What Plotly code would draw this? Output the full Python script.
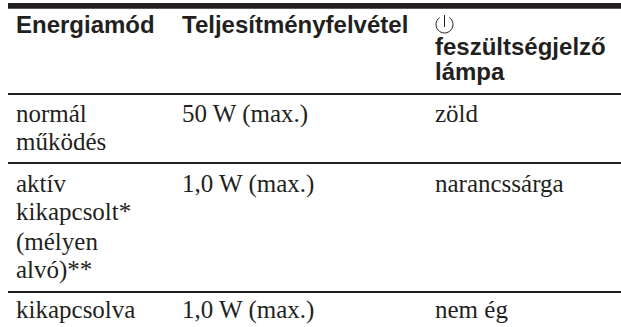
import math
import plotly.graph_objects as go

col1_header = "Energiamód"
col2_header = "Teljesítményfelvétel"
col3_header_lines = ["feszültségjelző", "lámpa"]
modes = [["normál", "működés"], ["aktív", "kikapcsolt*", "(mélyen", "alvó)**"], ["kikapcsolva"]]
power = ["50 W (max.)", "1,0 W (max.)", "1,0 W (max.)"]
lamp = ["zöld", "narancssárga", "nem ég"]

X1, X2, X3 = 15, 181, 434
mode_y = [[113.6, 141.6], [183.6, 211.6, 241.6, 269.6], [309.6]]
row_y = [113.6, 183.6, 309.6]
rules = [94, 163, 292]
INK = "#231f20"

def arc_path(cx, cy, r, a0, a1, n=6):
    d = (a1 - a0) / n
    k = 4 / 3 * math.tan(math.radians(d) / 4) * r
    pts = []
    for i in range(n):
        a = math.radians(a0 + i * d); b = math.radians(a0 + (i + 1) * d)
        p0 = (cx + r * math.sin(a), cy - r * math.cos(a))
        p3 = (cx + r * math.sin(b), cy - r * math.cos(b))
        c1 = (p0[0] + k * math.cos(a), p0[1] + k * math.sin(a))
        c2 = (p3[0] - k * math.cos(b), p3[1] - k * math.sin(b))
        if i == 0:
            pts.append(f"M {p0[0]:.2f} {p0[1]:.2f}")
        pts.append(f"C {c1[0]:.2f} {c1[1]:.2f} {c2[0]:.2f} {c2[1]:.2f} {p3[0]:.2f} {p3[1]:.2f}")
    return " ".join(pts)

fig = go.Figure()
ann = []
def t(x, y, s, font, size):
    ann.append(dict(x=x, y=y, text=s, xref="x", yref="y", showarrow=False, xanchor="left", yanchor="middle",
                    xshift=-1, font=dict(family=font, size=size, color=INK)))
SANS = "Liberation Sans"; SERIF = "Liberation Serif"
HS, BS = 24, 25
t(X1, 24.4, f"<b>{col1_header}</b>", SANS, HS)
t(X2, 24.4, f"<b>{col2_header}</b>", SANS, HS)
for y, s in zip([46.7, 71.7], col3_header_lines):
    t(X3, y, f"<b>{s}</b>", SANS, HS)
for lines, ys in zip(modes, mode_y):
    for s, y in zip(lines, ys):
        t(X1, y, s, SERIF, BS)
for s, y in zip(power, row_y):
    t(X2, y, s, SERIF, BS)
for s, y in zip(lamp, row_y):
    t(X3, y, s, SERIF, BS)

shapes = [dict(type="rect", x0=8, x1=621, y0=3, y1=8.7, fillcolor=INK, line_width=0, xref="x", yref="y")]
for y in rules:
    shapes.append(dict(type="line", x0=8, x1=621, y0=y, y1=y, line=dict(color=INK, width=2), xref="x", yref="y"))
shapes.append(dict(type="path", path=arc_path(444.5, 24.5, 8.5, 35, 325), line=dict(color=INK, width=1), xref="x", yref="y"))
shapes.append(dict(type="line", x0=444.5, x1=444.5, y0=15, y1=27, line=dict(color=INK, width=1), xref="x", yref="y"))

fig.update_layout(width=621, height=327, margin=dict(l=0, r=0, t=0, b=0), plot_bgcolor="white", paper_bgcolor="white",
                  showlegend=False, annotations=ann, shapes=shapes,
                  xaxis=dict(range=[0, 621], visible=False), yaxis=dict(range=[327, 0], visible=False))
fig.write_html("out.html", config={"displayModeBar": False},
               post_script="document.body.style.margin='0';document.body.style.overflow='hidden';")
